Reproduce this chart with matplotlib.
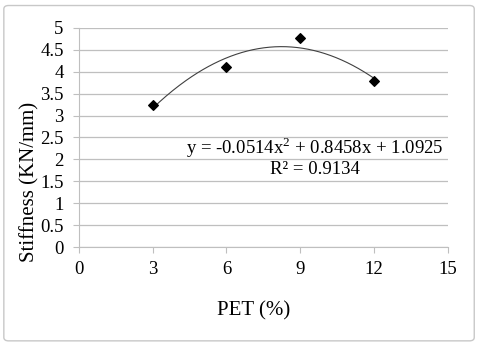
import numpy as np
import matplotlib.pyplot as plt
from matplotlib.patches import FancyBboxPatch

pet = [3, 6, 9, 12]
stiffness = [3.24, 4.1, 4.76, 3.78]
eq_text = "y = -0.0514x$^{2}$ + 0.8458x + 1.0925"
r2_text = "R² = 0.9134"
x_ticks = [0, 3, 6, 9, 12, 15]
y_ticks = [0, 0.5, 1, 1.5, 2, 2.5, 3, 3.5, 4, 4.5, 5]

plt.rcParams["font.family"] = "Liberation Serif"
plt.rcParams["mathtext.fontset"] = "custom"
plt.rcParams["mathtext.rm"] = "Liberation Serif"

fig = plt.figure(figsize=(4.8, 3.45), dpi=100)
border = FancyBboxPatch((0.008, 0.012), 0.98, 0.972, boxstyle="round,pad=0,rounding_size=0.01",
                        transform=fig.transFigure, fc="white", ec="#c8c8c8", lw=1.0, zorder=-5)
fig.patches.append(border)
ax = fig.add_axes([0.1646, 0.284, 0.768, 0.635])
ax.set_facecolor("none")
ax.set_zorder(2)

# quadratic trendline
coef = np.polyfit(pet, stiffness, 2)
xs = np.linspace(min(pet), max(pet), 200)
ax.plot(xs, np.polyval(coef, xs), color="#404040", lw=0.8)
ax.scatter(pet, stiffness, marker="D", s=24, color="black", zorder=3)

ax.set_xlim(0, 15)
ax.set_ylim(0, 5)
ax.set_xticks(x_ticks)
ax.set_yticks(y_ticks)
ax.set_yticklabels([f"{v:g}" for v in y_ticks])
ax.grid(axis="y", color="#bfbfbf", lw=0.9)
ax.set_axisbelow(True)
for s in ["top", "right"]:
    ax.spines[s].set_visible(False)
for s in ["left", "bottom"]:
    ax.spines[s].set_color("#bfbfbf")
ax.tick_params(axis="both", colors="#bfbfbf", labelcolor="black", labelsize=13.5, length=4)
ax.tick_params(axis="x", pad=6)
ax.tick_params(axis="y", pad=7)

ax.text(9.6, 2.28, eq_text, ha="center", va="center", fontsize=13.5)
ax.text(9.6, 1.76, r2_text, ha="center", va="center", fontsize=13.5)

fig.text(0.528, 0.098, "PET (%)", ha="center", va="center", fontsize=15)
fig.text(0.063, 0.472, "Stiffness (KN/mm)", ha="center", va="center", rotation=90, fontsize=15)

fig.savefig("out.png", dpi=100)
